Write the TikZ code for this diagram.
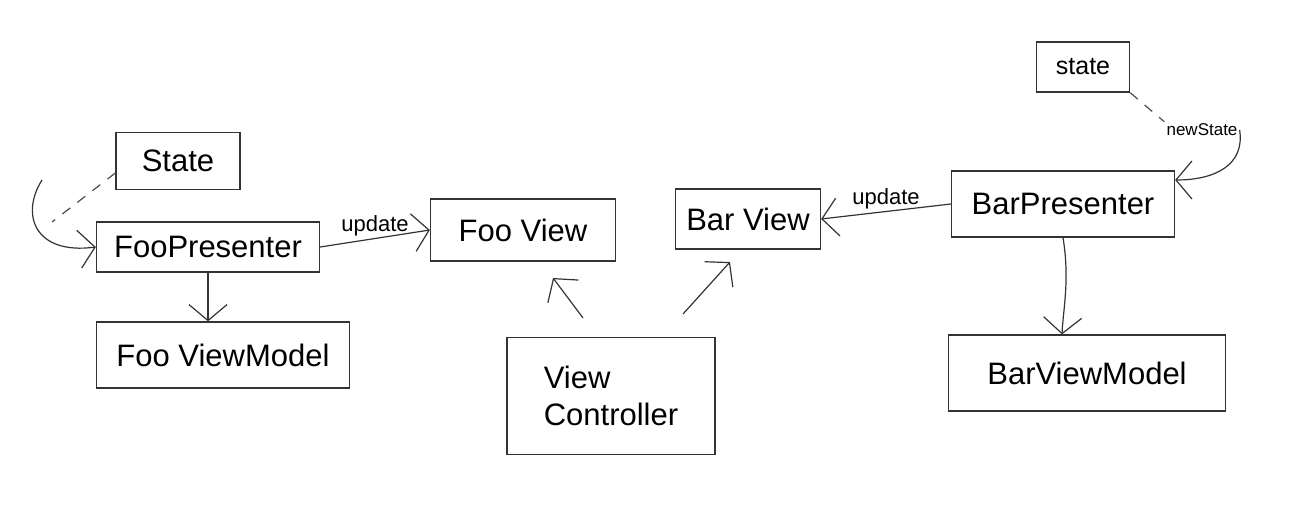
\documentclass[tikz,border=0pt]{standalone}
\usepackage{fontspec}
\setmainfont{Liberation Sans}
\usetikzlibrary{arrows.meta}
\begin{document}
\begin{tikzpicture}[x=1pt,y=-1pt,
  box/.style={draw=black!80,line width=1.3pt,inner sep=4pt,font=\fontsize{31}{37}\selectfont},
  arr/.style={draw=black!80,line width=1.2pt,-{Straight Barb[length=16pt,width=38pt,line width=1.2pt]}},
  dsh/.style={draw=black!70,line width=1.2pt,dash pattern=on 10pt off 9pt},
  lbl/.style={font=\fontsize{22}{26}\selectfont,inner sep=2pt}]
\useasboundingbox (0,0) rectangle (1304,509);
% nodes
\node[box,minimum width=124pt,minimum height=57pt] (stateL) at (178,161) {State};
\node[box,minimum width=223pt,minimum height=50pt] (fooP) at (208,247) {FooPresenter};
\node[box,minimum width=253pt,minimum height=66pt] (fooVM) at (223,355) {Foo ViewModel};
\node[box,minimum width=185pt,minimum height=62pt] (fooV) at (523,230) {Foo View};
\node[box,minimum width=145pt,minimum height=60pt] (barV) at (748,219) {Bar View};
\node[box,minimum width=208pt,minimum height=117pt,align=left] (vc) at (611,396) {View\\Controller};
\node[box,minimum width=93pt,minimum height=50pt,font=\fontsize{25}{30}\selectfont] (stateR) at (1083,67) {state};
\node[box,minimum width=223pt,minimum height=66pt] (barP) at (1063,204) {BarPresenter};
\node[box,minimum width=277pt,minimum height=76pt] (barVM) at (1087,373) {BarViewModel};
% left state loop
\coordinate (dL) at (52,222);
\coordinate (cL) at (42,180);
\draw[dsh] (stateL.west) ++(0,12) -- (dL);
\draw[arr] (cL) .. controls (20,215) and (35,255) .. (fooP.west);
% foo presenter connections
\draw[arr] (fooP.east) -- node[lbl,above] {update} (fooV.west);
\draw[arr] (fooP.south) -- (fooVM.north -| fooP.south);
% view controller
\coordinate (vc1) at (583,318);
\coordinate (vc2) at (683,314);
\coordinate (fv1) at (553,278);
\coordinate (bv1) at (730,262);
\draw[arr] (vc1) -- (fv1);
\draw[arr] (vc2) -- (bv1);
% bar presenter
\draw[arr] (barP.west) -- node[lbl,above] {update} (barV.east);
\draw[arr] (barP.south) .. controls (1070,280) and (1063,310) .. (barVM.north -| 1062,0);
% right state
\node[lbl,font=\fontsize{17}{20}\selectfont] (ns) at (1202,130) {newState};
\draw[dsh] (stateR.south east) -- (ns.north west);
\draw[arr] (ns.east) .. controls (1245,165) and (1215,180) .. (barP.east |- 0,180);
\end{tikzpicture}
\end{document}
